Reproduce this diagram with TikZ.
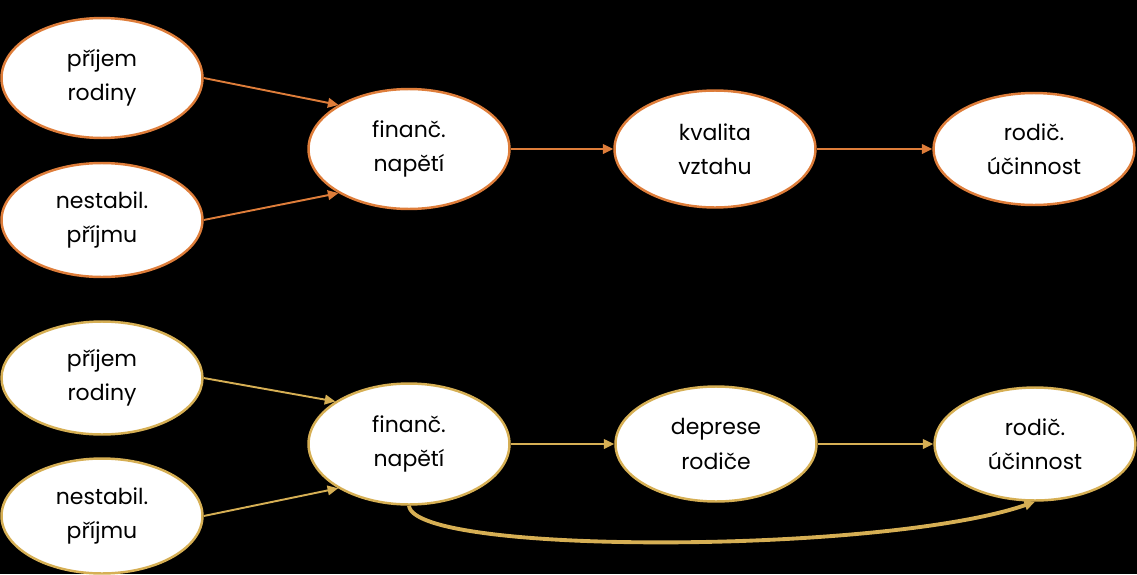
\documentclass[tikz,border=0pt]{standalone}
\usepackage{fontspec}
\setmainfont{Poppins}
\usetikzlibrary{shapes.geometric,arrows.meta}
\definecolor{oranzova}{RGB}{222,125,58}
\definecolor{zlata}{RGB}{214,175,84}
\begin{document}
\begin{tikzpicture}[x=0.02cm, y=-0.02cm, >={Triangle[length=6pt,width=5.5pt]},
  uzel/.style={ellipse, draw, fill=white, line width=1.4pt, minimum width=4.02cm,
    minimum height=2.34cm, inner sep=0pt, align=center,
    font=\fontsize{12.5}{19.5}\selectfont},
  sipka/.style={->, line width=1.1pt}]
\fill[black] (0,0) rectangle (1137,574);
% horni model
\node[uzel, draw=oranzova, minimum height=2.4cm] (prijemA) at (102,78) {příjem\\rodiny};
\node[uzel, draw=oranzova, minimum height=2.28cm] (nestabA) at (102,220) {nestabil.\\příjmu};
\node[uzel, draw=oranzova, minimum height=2.4cm] (napetiA) at (409,149) {finanč.\\napětí};
\node[uzel, draw=oranzova] (kvalita) at (715,149) {kvalita\\vztahu};
\node[uzel, draw=oranzova, minimum height=2.24cm] (ucinA) at (1034,149) {rodič.\\účinnost};
\draw[sipka, oranzova] (prijemA.east) -- (napetiA.148);
\draw[sipka, oranzova] (nestabA.east) -- (napetiA.212);
\draw[sipka, oranzova] (napetiA) -- (kvalita);
\draw[sipka, oranzova] (kvalita) -- (ucinA);
% dolni model
\node[uzel, draw=zlata, minimum height=2.26cm] (prijemB) at (102,378) {příjem\\rodiny};
\node[uzel, draw=zlata, minimum height=2.3cm] (nestabB) at (102,516) {nestabil.\\příjmu};
\node[uzel, draw=zlata, minimum height=2.42cm] (napetiB) at (409,444) {finanč.\\napětí};
\node[uzel, draw=zlata, minimum height=2.3cm] (deprese) at (716,444) {deprese\\rodiče};
\node[uzel, draw=zlata, minimum height=2.26cm] (ucinB) at (1035,444) {rodič.\\účinnost};
\draw[sipka, zlata] (prijemB.east) -- (napetiB.150);
\draw[sipka, zlata] (nestabB.east) -- (napetiB.212);
\draw[sipka, zlata] (napetiB) -- (deprese);
\draw[sipka, zlata] (deprese) -- (ucinB);
% primy efekt
\draw[sipka, zlata, line width=2.2pt] (napetiB.south) .. controls +(5,50) and +(-150,52) .. (ucinB.south);
\end{tikzpicture}
\end{document}
